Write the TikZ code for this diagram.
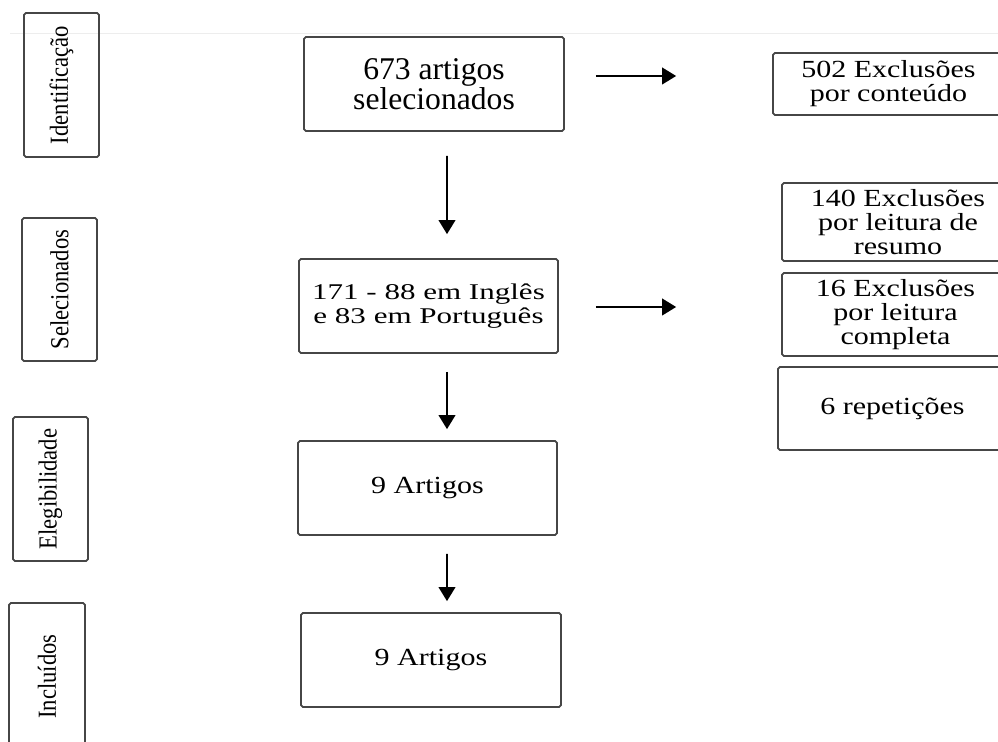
\documentclass[tikz,border=0pt]{standalone}
\usepackage{fontspec}
\setmainfont{Liberation Serif}
\newfontfamily\tallserif[FakeStretch=0.87]{Liberation Serif}
\newfontfamily\wideserif[FakeStretch=1.22]{Liberation Serif}
\newfontfamily\widerserif[FakeStretch=1.38]{Liberation Serif}
\usetikzlibrary{arrows.meta,calc}
\definecolor{edge}{RGB}{70,70,70}

\begin{document}
\begin{tikzpicture}[x=0.02cm,y=-0.02cm,
  box/.style={draw=edge,line width=1pt,rounded corners=1pt,inner sep=0pt,align=center},
  stage/.style={box,rotate=90,minimum height=1.5cm,font=\tallserif\fontsize{14.8}{16}\selectfont},
  excl/.style={box,font=\wideserif\fontsize{14}{13.6}\selectfont},
  arr/.style={line width=1.1pt,-{Triangle[length=8pt,width=9.5pt]}}]
  \useasboundingbox (0,0) rectangle (998,742);
  \clip (0,0) rectangle (998,742);
  \draw[black!7] (10,33) -- (998,33);

  % fases
  \node[stage,minimum width=2.88cm] (stgid) at (61.5,85) {Identificação};
  \node[stage,minimum width=2.86cm] (stgsel) at (59.5,289.5) {Selecionados};
  \node[stage,minimum width=2.88cm] (stgeleg) at (50.5,489) {Elegibilidade};
  \node[stage,minimum width=2.94cm,minimum height=1.52cm] (stgincl) at (47,676.5) {Incluídos};

  % coluna central
  \node[box,minimum width=5.2cm,minimum height=1.88cm,font=\fontsize{18}{15}\selectfont] (artigos) at (434,84) {673 artigos\\selecionados};
  \node[box,minimum width=5.18cm,minimum height=1.88cm,font=\widerserif\fontsize{12.8}{13.5}\selectfont] (idiomas) at (428.5,306) {171 - 88 em Inglês\\e 83 em Português};
  \node[box,minimum width=5.18cm,minimum height=1.88cm,font=\wideserif\fontsize{14}{15}\selectfont] (eleg) at (427.5,488) {9 Artigos};
  \node[box,minimum width=5.2cm,minimum height=1.88cm,font=\wideserif\fontsize{14}{15}\selectfont] (incl) at (431,660) {9 Artigos};

  % exclusoes
  \node[excl,minimum width=4.62cm,minimum height=1.24cm] (conteudo) at (888.5,84) {502 Exclusões\\por conteúdo};
  \node[excl,minimum width=4.64cm,minimum height=1.56cm] (resumo) at (898,222) {140 Exclusões\\por leitura de\\resumo};
  \node[excl,minimum width=4.54cm,minimum height=1.66cm] (completa) at (895.5,314.5) {16 Exclusões\\por leitura\\completa};
  \node[excl,minimum width=4.58cm,minimum height=1.66cm] (repet) at (892.5,408.5) {6 repetições};

  \draw[arr] ($(artigos.south)+(13,24)$) -- ($(idiomas.north)+(18.5,-24)$);
  \draw[arr] ($(idiomas.south)+(18.5,18)$) -- ($(eleg.north)+(19.5,-11)$);
  \draw[arr] ($(eleg.south)+(19.5,18)$) -- ($(incl.north)+(16,-11)$);
  \draw[arr] ($(artigos.east)+(31,-8)$) -- ($(conteudo.west)+(-96,-8)$);
  \draw[arr] ($(idiomas.east)+(37,1)$) -- ($(completa.west)+(-105,-7.5)$);
\end{tikzpicture}
\end{document}
